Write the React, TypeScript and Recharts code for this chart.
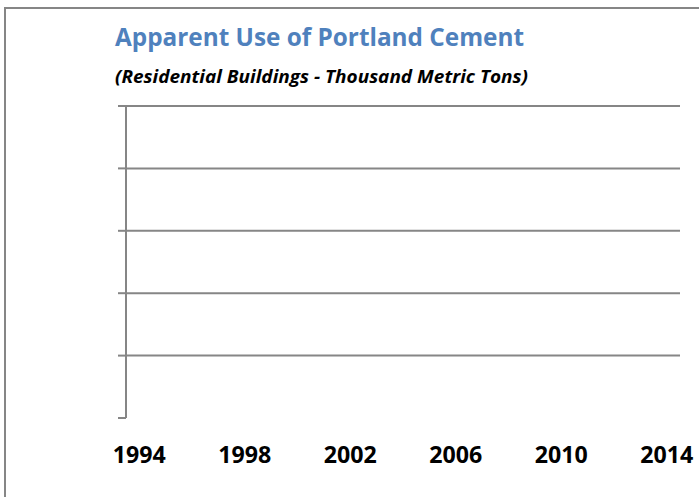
import { LineChart, Line, XAxis, YAxis, ReferenceLine } from 'recharts'

const years = [
  '1994', '1995', '1996', '1997', '1998', '1999', '2000', '2001', '2002', '2003', '2004',
  '2005', '2006', '2007', '2008', '2009', '2010', '2011', '2012', '2013', '2014',
]
// the reference shows no plotted values, only the empty frame
const useValues: (number | null)[] = years.map(() => null)
const yTicks = [0, 1, 2, 3, 4, 5]
const gridValues = [1, 2, 3, 4, 5]

const title = 'Apparent Use of Portland Cement'
const subtitle = '(Residential Buildings - Thousand Metric Tons)'

const GRAY = '#868686'
const FONT = '"Open Sans", "Noto Sans", sans-serif'

const YearTick = ({ x, y, payload }: any) => (
  <text
    x={x}
    y={y + 45}
    textAnchor='middle'
    fontFamily={FONT}
    fontWeight={700}
    fontSize={23}
    fill='#000'
    textLength={53}
    lengthAdjust='spacingAndGlyphs'
  >
    {payload.value}
  </text>
)

// y values are not labelled in the reference, only tick marks
const EmptyTick = () => <g />

export default function App() {
  const data = years.map((year, i) => ({ year, value: useValues[i] }))

  return (
    <div style={{
      position: 'absolute', left: 0, top: 0, width: 699, height: 497,
      background: '#fff', overflow: 'hidden',
    }}>
      {/* outer chart frame, cropped at right and bottom */}
      <div style={{
        position: 'absolute', left: 4, top: 7, width: 740, height: 540,
        borderLeft: `2px solid ${GRAY}`, borderTop: `2px solid ${GRAY}`,
      }} />

      <svg width={699} height={100} style={{ position: 'absolute', left: 0, top: 0 }}>
        <text
          x={115} y={46}
          fontFamily={FONT} fontWeight={700} fontSize={25}
          fill='#4f81bd'
          textLength={409} lengthAdjust='spacingAndGlyphs'
        >{title}</text>
        <text
          x={115} y={83}
          fontFamily={FONT} fontWeight={700} fontStyle='italic' fontSize={17}
          fill='#000'
          textLength={413} lengthAdjust='spacingAndGlyphs'
        >{subtitle}</text>
      </svg>

      <div style={{ position: 'absolute', left: 0, top: 0 }}>
        <LineChart width={699} height={497} data={data} margin={{ top: 106, right: 19, left: 0, bottom: 19 }}>
          <XAxis
            dataKey='year'
            scale='band'
            interval={3}
            axisLine={false}
            tickLine={false}
            tickSize={0}
            tickMargin={0}
            height={60}
            tick={<YearTick />}
          />
          <YAxis
            type='number'
            domain={[0, 5]}
            allowDataOverflow
            ticks={yTicks}
            interval={0}
            width={126}
            tick={<EmptyTick />}
            tickSize={8}
            axisLine={{ stroke: GRAY, strokeWidth: 2 }}
            tickLine={{ stroke: GRAY, strokeWidth: 2 }}
          />
          {gridValues.map(v => (
            <ReferenceLine key={v} y={v} stroke={GRAY} strokeWidth={2} ifOverflow='visible' />
          ))}
          <Line dataKey='value' stroke='#4f81bd' dot={false} isAnimationActive={false} />
        </LineChart>
      </div>
    </div>
  )
}
